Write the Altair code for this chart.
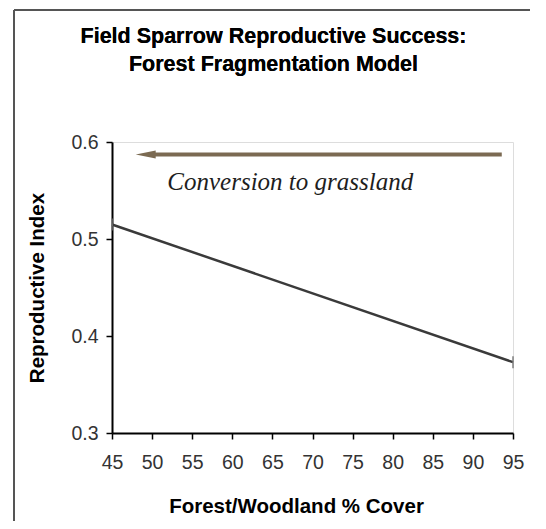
import altair as alt
import pandas as pd

# ---- data ----
forest_cover = [45, 95]
repro_index = [0.515, 0.373]
x_ticks = [45, 50, 55, 60, 65, 70, 75, 80, 85, 90, 95]
y_ticks = [0.3, 0.4, 0.5, 0.6]
arrow_x = [93.6, 50.3]
arrow_y = [0.587, 0.587]
arrow_head_x = [49.2]
annotation_text = ["Conversion to grassland"]
annotation_x = [51.9]
annotation_y = [0.551]
title_lines = ["Field Sparrow Reproductive Success:", "Forest Fragmentation Model"]

line_df = pd.DataFrame({"cover": forest_cover, "index": repro_index})
arrow_df = pd.DataFrame({"x": [arrow_x[0]], "x2": [arrow_x[1]], "y": [arrow_y[0]]})
head_df = pd.DataFrame({"x": arrow_head_x, "y": [arrow_y[0]]})
text_df = pd.DataFrame({"label": annotation_text, "x": annotation_x, "y": annotation_y})

xscale = alt.Scale(domain=[45, 95], nice=False, zero=False)
yscale = alt.Scale(domain=[0.3, 0.6], nice=False, zero=False)

x_axis = alt.Axis(
    values=x_ticks, grid=False, title="Forest/Woodland % Cover", labelFlush=False,
    domainColor="black", domainWidth=2, tickColor="black", tickWidth=1.5, tickSize=6,
    labelFont="Liberation Sans", labelFontSize=19.5, labelColor="#333333", labelPadding=14,
    titleFont="Liberation Sans", titleFontSize=20.5, titleFontWeight="bold", titleColor="black",
    titleX=184, titleY=79, titleBaseline="alphabetic", titleAnchor="start", titleAlign="center",
)
y_axis = alt.Axis(
    values=y_ticks, format=".1f", grid=False, title="Reproductive Index", labelFlush=False,
    domainColor="black", domainWidth=2, tickColor="black", tickWidth=1.5, tickSize=6,
    labelFont="Liberation Sans", labelFontSize=19.5, labelColor="#333333", labelPadding=8,
    titleFont="Liberation Sans", titleFontSize=20.5, titleFontWeight="bold", titleColor="black",
    titleAngle=270, titleX=-69, titleY=145.5, titleBaseline="alphabetic", titleAlign="center",
)

base = alt.Chart(line_df)

line = base.mark_line(color="#3a3a3a", strokeWidth=2.5).encode(
    x=alt.X("cover:Q", scale=xscale, axis=x_axis),
    y=alt.Y("index:Q", scale=yscale, axis=y_axis),
)
ends = base.mark_tick(color="#777777", thickness=2, size=12, orient="vertical").encode(
    x=alt.X("cover:Q", scale=xscale),
    y=alt.Y("index:Q", scale=yscale),
)

arrow = alt.Chart(arrow_df).mark_rule(color="#7b6a52", strokeWidth=4).encode(
    x=alt.X("x:Q", scale=xscale), x2="x2:Q", y=alt.Y("y:Q", scale=yscale)
)
head = alt.Chart(head_df).mark_point(
    shape="M1,-0.4 L-1,0 L1,0.4 Z", filled=True, color="#7b6a52", size=400, opacity=1
).encode(x=alt.X("x:Q", scale=xscale), y=alt.Y("y:Q", scale=yscale))

note = alt.Chart(text_df).mark_text(
    font="Liberation Serif", fontStyle="italic", fontSize=25, color="#1e1e1e",
    align="left", baseline="alphabetic"
).encode(x=alt.X("x:Q", scale=xscale), y=alt.Y("y:Q", scale=yscale), text="label:N")

title1 = alt.Chart(line_df).mark_text(
    text=title_lines[0], font="Liberation Sans", fontSize=21.5, fontWeight="bold",
    color="black", align="center", baseline="alphabetic", clip=False
).encode(x=alt.value(161.5), y=alt.value(-99))
title2 = alt.Chart(line_df).mark_text(
    text=title_lines[1], font="Liberation Sans", fontSize=21.5, fontWeight="bold",
    color="black", align="center", baseline="alphabetic", clip=False
).encode(x=alt.value(161.5), y=alt.value(-71))

border_left = alt.Chart(line_df).mark_rule(color="#555555", strokeWidth=2, clip=False).encode(
    x=alt.value(-98), y=alt.value(-132), y2=alt.value(400)
)
border_top = alt.Chart(line_df).mark_rule(color="#555555", strokeWidth=2, clip=False).encode(
    x=alt.value(-98), x2=alt.value(440), y=alt.value(-132)
)

chart = alt.layer(border_left, border_top, title1, title2, line, ends, arrow, head, note).properties(
    width=401, height=291,
    autosize=alt.AutoSizeParams(type="none"),
    padding={"left": 104, "top": 134, "right": 17, "bottom": 88},
).configure_view(stroke="#8c8c8c", strokeWidth=2).configure(background="white")

chart.save("out.html", embed_options={"renderer": "svg", "actions": False})
